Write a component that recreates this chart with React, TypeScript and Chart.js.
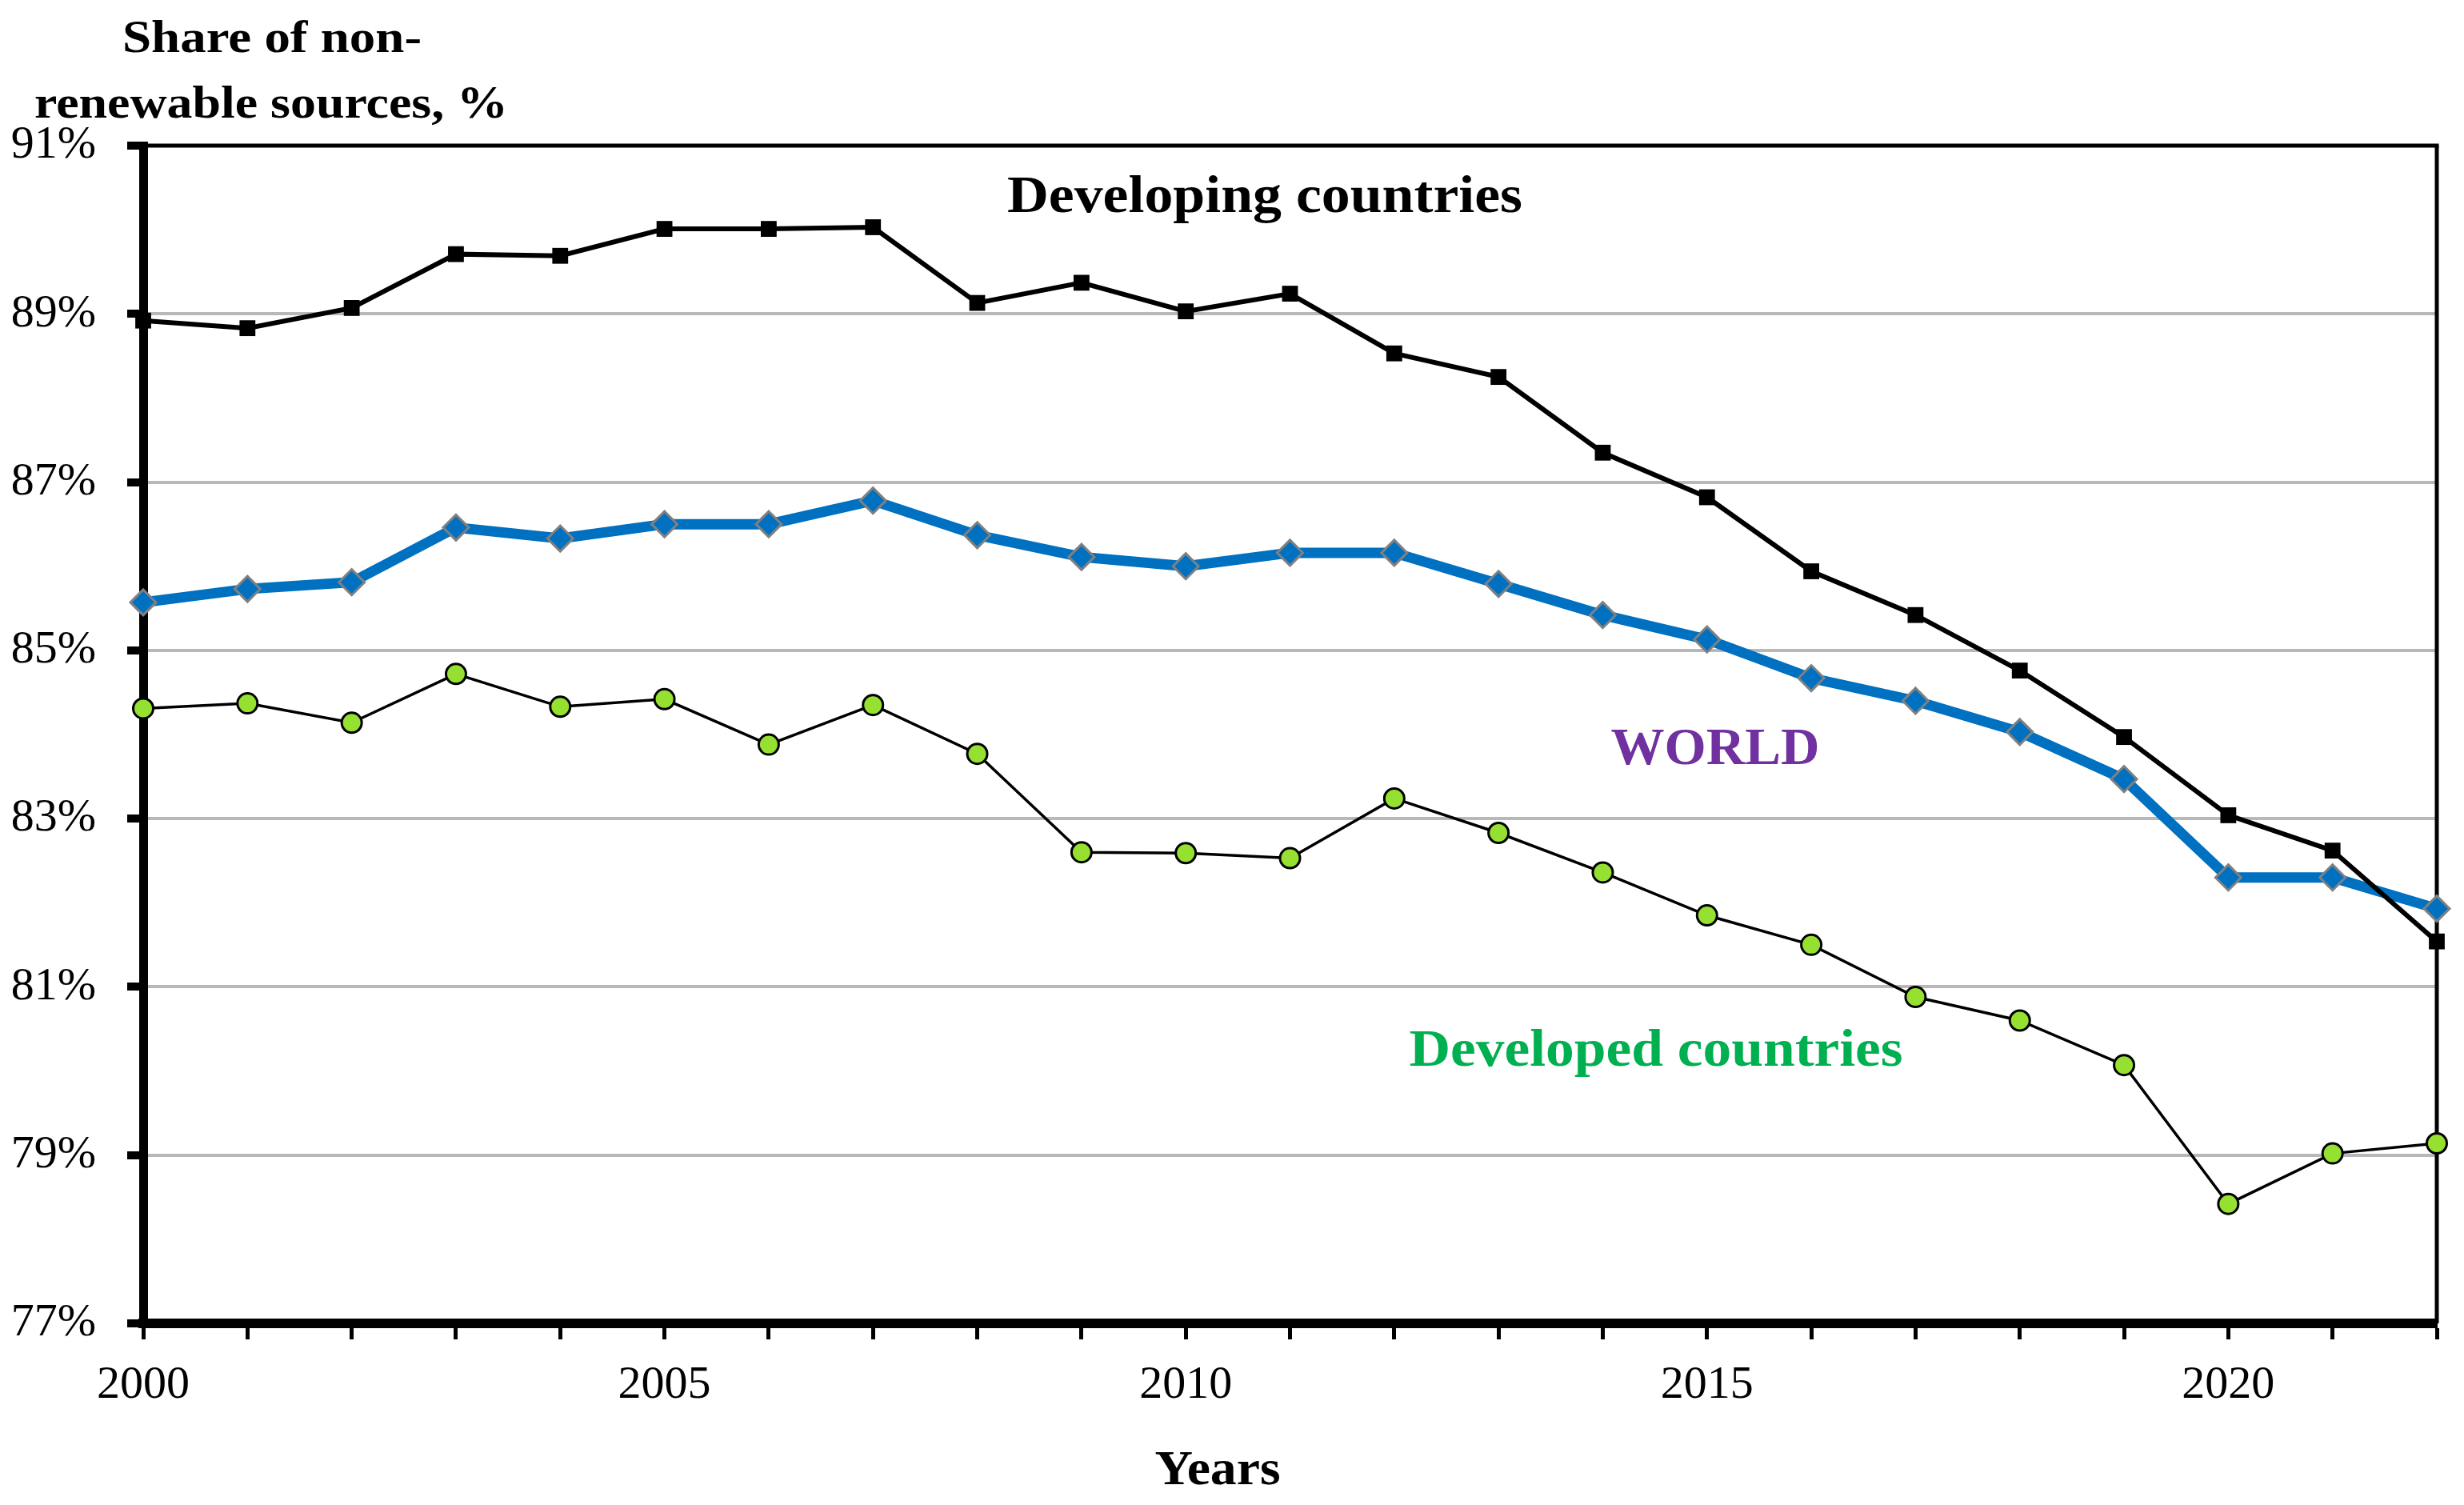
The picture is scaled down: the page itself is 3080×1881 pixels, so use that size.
import React, { useEffect, useRef } from "react";
import { Chart, registerables } from "chart.js";

Chart.register(...registerables);

const years: string[] = [
  "2000", "2001", "2002", "2003", "2004", "2005", "2006", "2007", "2008", "2009", "2010",
  "2011", "2012", "2013", "2014", "2015", "2016", "2017", "2018", "2019", "2020", "2021", "2022",
];

const developing: number[] = [
  88.92, 88.83, 89.07, 89.71, 89.69, 90.01, 90.01, 90.03, 89.13, 89.37, 89.03,
  89.24, 88.53, 88.25, 87.35, 86.82, 85.94, 85.42, 84.76, 83.97, 83.04, 82.62, 81.54,
];

const world: number[] = [
  85.57, 85.73, 85.81, 86.46, 86.33, 86.5, 86.5, 86.78, 86.37, 86.11, 86.0,
  86.16, 86.16, 85.79, 85.42, 85.13, 84.67, 84.4, 84.03, 83.47, 82.3, 82.3, 81.93,
];

const developed: number[] = [
  84.31, 84.37, 84.14, 84.72, 84.33, 84.42, 83.88, 84.35, 83.77, 82.6, 82.59,
  82.53, 83.24, 82.83, 82.36, 81.85, 81.5, 80.88, 80.6, 80.07, 78.42, 79.02, 79.14,
];

const yTickValues: number[] = [77, 79, 81, 83, 85, 87, 89, 91];
const xLabelYears: string[] = ["2000", "2005", "2010", "2015", "2020"];

const yAxisTitle: string[] = ["Share of non-", "renewable sources, %"];
const xAxisTitle = "Years";
const seriesNames: string[] = ["Developing countries", "WORLD", "Developed countries"];

const FONT = '"Liberation Serif", "Times New Roman", serif';

function drawFitted(
  ctx: CanvasRenderingContext2D,
  text: string,
  cx: number,
  baseline: number,
  size: number,
  color: string,
  targetW: number
) {
  ctx.save();
  ctx.font = `bold ${size}px ${FONT}`;
  const w = ctx.measureText(text).width || 1;
  ctx.translate(cx, baseline);
  ctx.scale(targetW / w, 1);
  ctx.textAlign = "center";
  ctx.textBaseline = "alphabetic";
  ctx.fillStyle = color;
  ctx.fillText(text, 0, 0);
  ctx.restore();
}

const framePlugin = {
  id: "frame",
  beforeDatasetsDraw(chart: any) {
    const { ctx, chartArea } = chart;
    ctx.save();
    ctx.strokeStyle = "#000";
    ctx.lineWidth = 5;
    ctx.beginPath();
    ctx.moveTo(chartArea.left, chartArea.top);
    ctx.lineTo(chartArea.right + 2.5, chartArea.top);
    ctx.stroke();
    ctx.lineWidth = 5;
    ctx.beginPath();
    ctx.moveTo(chartArea.right, chartArea.top);
    ctx.lineTo(chartArea.right, chartArea.bottom);
    ctx.stroke();
    ctx.restore();
  },
  afterDraw(chart: any) {
    const { ctx } = chart;
    drawFitted(ctx, yAxisTitle[0], 340, 65, 57, "#000", 374);
    drawFitted(ctx, yAxisTitle[1], 339, 147, 57, "#000", 592);
    drawFitted(ctx, seriesNames[0], 1581, 265, 66, "#000", 644);
    drawFitted(ctx, seriesNames[1], 2144, 955, 66, "#7030A0", 261);
    drawFitted(ctx, seriesNames[2], 2070, 1332, 66, "#00B050", 617);
    drawFitted(ctx, xAxisTitle, 1522, 1855, 62, "#000", 157);
  },
};

export default function App() {
  const canvasRef = useRef<HTMLCanvasElement | null>(null);

  useEffect(() => {
    if (!canvasRef.current) return;
    const chart = new Chart(canvasRef.current, {
      type: "line",
      data: {
        labels: years,
        datasets: [
          {
            label: seriesNames[0],
            data: developing,
            borderColor: "#000",
            borderWidth: 6,
            pointStyle: "rect",
            pointRadius: 14,
            pointBackgroundColor: "#000",
            pointBorderColor: "#000",
            pointBorderWidth: 0,
            tension: 0,
          },
          {
            label: seriesNames[1],
            data: world,
            borderColor: "#0070C0",
            borderWidth: 13,
            pointStyle: "rectRot",
            pointRadius: 16,
            pointBackgroundColor: "#0070C0",
            pointBorderColor: "#808080",
            pointBorderWidth: 3,
            tension: 0,
          },
          {
            label: seriesNames[2],
            data: developed,
            borderColor: "#000",
            borderWidth: 3.5,
            pointStyle: "circle",
            pointRadius: 12.5,
            pointBackgroundColor: "#95E030",
            pointBorderColor: "#000",
            pointBorderWidth: 3,
            tension: 0,
          },
        ],
      },
      options: {
        animation: false,
        responsive: false,
        devicePixelRatio: 1,
        layout: { padding: { top: 182, right: 34, left: 0, bottom: 0 } },
        plugins: {
          legend: { display: false },
          tooltip: { enabled: false },
          title: { display: false },
        },
        scales: {
          x: {
            type: "category",
            offset: false,
            grid: {
              display: true,
              drawOnChartArea: false,
              drawTicks: true,
              tickLength: 20,
              tickWidth: 5,
              tickColor: "#000",
            },
            border: { display: true, color: "#000", width: 12 },
            ticks: {
              autoSkip: false,
              maxRotation: 0,
              minRotation: 0,
              padding: 23,
              color: "#000",
              font: { family: FONT, size: 58 },
              callback: function (this: any, _v: any, i: number) {
                const y = years[i];
                return xLabelYears.includes(y) ? y : "";
              },
            },
            afterFit: (scale: any) => {
              scale.height = 227;
            },
          },
          y: {
            min: 77,
            max: 91,
            afterBuildTicks: (scale: any) => {
              scale.ticks = yTickValues.map((v) => ({ value: v }));
            },
            grid: {
              color: "#B8B8B8",
              lineWidth: 4,
              drawTicks: true,
              tickLength: 20,
              tickWidth: 10,
              tickColor: "#000",
            },
            border: { display: true, color: "#000", width: 11 },
            ticks: {
              padding: 39,
              color: "#000",
              font: { family: FONT, size: 58 },
              callback: (v: any) => `${v}%`,
            },
            afterFit: (scale: any) => {
              scale.width = 179;
            },
          },
        },
      },
      plugins: [framePlugin],
    });
    return () => chart.destroy();
  }, []);

  return (
    <div style={{ position: "absolute", left: 0, top: 0, width: 3080, height: 1881, background: "#fff" }}>
      <canvas ref={canvasRef} width={3080} height={1881} style={{ display: "block" }} />
    </div>
  );
}
